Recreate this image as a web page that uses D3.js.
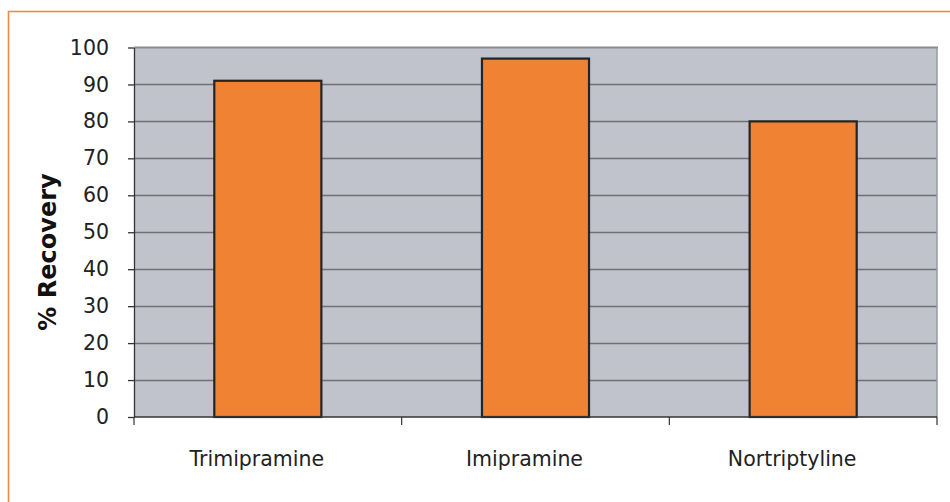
<!DOCTYPE html>
<html>
<head>
<meta charset="utf-8">
<script src="https://cdn.jsdelivr.net/npm/d3@7"></script>
<style>
  html, body { margin: 0; padding: 0; background: #fff; }
  svg { display: block; }
</style>
</head>
<body>
<svg id="chart" width="950" height="502"></svg>
<script>
// Recovery of tricyclic antidepressants
const drugs = ["Trimipramine", "Imipramine", "Nortriptyline"];
const recovery = [91, 97, 80];
const yTicks = [0, 10, 20, 30, 40, 50, 60, 70, 80, 90, 100];
const yTitle = "% Recovery";

const W = 950, H = 502;
const m = { left: 134, right: 13, top: 47.5, bottom: 85 };
const FONT = "'DejaVu Sans', Verdana, sans-serif";
const svg = d3.select("#chart");

// outer frame
svg.append("rect")
  .attr("x", 8.5).attr("y", 11.5)
  .attr("width", W).attr("height", H)
  .attr("fill", "none")
  .attr("stroke", "#f08a3e")
  .attr("stroke-width", 1.6);

const x = d3.scaleBand()
  .domain(drugs)
  .range([m.left, W - m.right])
  .paddingInner(0.6)
  .paddingOuter(0.3);

const y = d3.scaleLinear()
  .domain([0, 100])
  .range([H - m.bottom, m.top]);

const plotL = m.left, plotR = W - m.right;

// plot background
svg.append("rect")
  .attr("x", plotL).attr("y", y(100))
  .attr("width", plotR - plotL).attr("height", y(0) - y(100))
  .attr("fill", "#c0c3cb");

// horizontal gridlines
svg.append("g")
  .selectAll("line")
  .data(yTicks.filter(d => d > 0 && d < 100))
  .join("line")
  .attr("x1", plotL).attr("x2", plotR)
  .attr("y1", d => Math.round(y(d)) + 0.5)
  .attr("y2", d => Math.round(y(d)) + 0.5)
  .attr("stroke", "#6e7075")
  .attr("stroke-width", 1.6);

// top and right edges of plot area
svg.append("line")
  .attr("x1", plotL).attr("x2", plotR + 1)
  .attr("y1", y(100)).attr("y2", y(100))
  .attr("stroke", "#888c92").attr("stroke-width", 2);
svg.append("line")
  .attr("x1", plotR).attr("x2", plotR)
  .attr("y1", y(100)).attr("y2", y(0))
  .attr("stroke", "#969aa0").attr("stroke-width", 1.5);

// bars
svg.append("g")
  .selectAll("rect")
  .data(drugs.map((d, i) => ({ name: d, value: recovery[i] })))
  .join("rect")
  .attr("x", d => x(d.name))
  .attr("y", d => y(d.value))
  .attr("width", x.bandwidth())
  .attr("height", d => y(0) - y(d.value))
  .attr("fill", "#f08233")
  .attr("stroke", "#242424")
  .attr("stroke-width", 2.2);

// y axis
const yAxis = svg.append("g")
  .attr("transform", `translate(${plotL},0)`)
  .call(d3.axisLeft(y).tickValues(yTicks).tickSize(6).tickPadding(19).tickSizeOuter(0));
yAxis.select(".domain").attr("stroke", "#333").attr("stroke-width", 1.3);
yAxis.selectAll(".tick line").attr("stroke", "#333").attr("stroke-width", 1.3);
yAxis.selectAll(".tick text")
  .attr("font-family", FONT)
  .attr("font-size", 20.5)
  .attr("fill", "#222");

// x axis: category boundaries ticked
const xAxisG = svg.append("g")
  .attr("transform", `translate(0,${y(0)})`);
xAxisG.append("line")
  .attr("x1", plotL).attr("x2", plotR)
  .attr("stroke", "#333").attr("stroke-width", 1.5);
const step = (plotR - plotL) / drugs.length;
xAxisG.selectAll("line.tk")
  .data(d3.range(drugs.length + 1))
  .join("line")
  .attr("class", "tk")
  .attr("x1", i => plotL + i * step).attr("x2", i => plotL + i * step)
  .attr("y1", 0).attr("y2", 8)
  .attr("stroke", "#333").attr("stroke-width", 1.2);
xAxisG.selectAll("text")
  .data(drugs)
  .join("text")
  .attr("x", d => x(d) + x.bandwidth() / 2 - 11)
  .attr("y", 49)
  .attr("text-anchor", "middle")
  .attr("font-family", FONT)
  .attr("font-size", 20.5)
  .attr("fill", "#222")
  .text(d => d);

// y title
svg.append("text")
  .attr("transform", `translate(55.5,252) rotate(-90)`)
  .attr("text-anchor", "middle")
  .attr("font-family", FONT)
  .attr("font-weight", "bold")
  .attr("font-size", 24)
  .attr("fill", "#111")
  .text(yTitle);
</script>
</body>
</html>
